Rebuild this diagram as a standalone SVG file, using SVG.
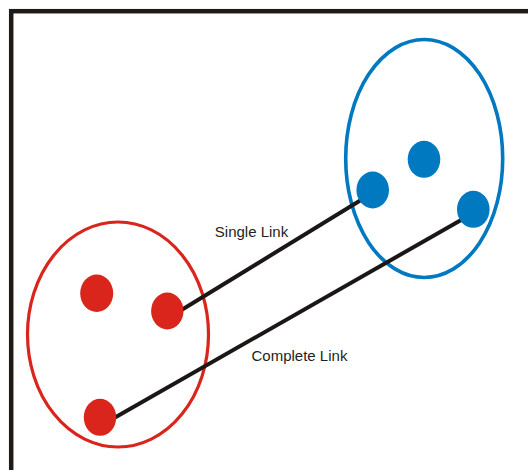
<svg xmlns="http://www.w3.org/2000/svg" width="528" height="470" viewBox="0 0 528 470">
  <style>
    .frame { fill: none; stroke: #1e1a18; stroke-width: 4.5; }
    .red-cluster { fill: none; stroke: #d9251c; stroke-width: 3.2; }
    .blue-cluster { fill: none; stroke: #0079c1; stroke-width: 3.6; }
    .red-pt { fill: #d9251c; }
    .blue-pt { fill: #0079c1; }
    .link { stroke: #1a1716; stroke-width: 4; stroke-linecap: butt; }
    .label { font-family: "Liberation Sans", Arial, sans-serif; font-size: 15px; fill: #231f20; }
  </style>
  <rect width="528" height="470" fill="#ffffff"/>
  <!-- open frame: top and left edges -->
  <rect class="frame" x="11.2" y="11.2" width="560" height="500"/>

  <g id="cluster-red">
    <ellipse class="red-cluster" cx="118" cy="334.5" rx="90.5" ry="112.5"/>
  </g>
  <g id="cluster-blue">
    <ellipse class="blue-cluster" cx="424.2" cy="158.5" rx="78.5" ry="119"/>
  </g>

  <g id="connectors">
    <line class="link" x1="181.5" y1="310" x2="361" y2="200"/>
    <line class="link" x1="115" y1="417.5" x2="462" y2="219.5"/>
  </g>

  <g id="red-1"><ellipse class="red-pt" cx="96.7" cy="293.3" rx="16.5" ry="18.7"/></g>
  <g id="red-2"><ellipse class="red-pt" cx="167.3" cy="311" rx="16.2" ry="18.5"/></g>
  <g id="red-3"><ellipse class="red-pt" cx="100" cy="417.3" rx="16.2" ry="18.5"/></g>

  <g id="blue-1"><ellipse class="blue-pt" cx="372.7" cy="190" rx="16.3" ry="18.5"/></g>
  <g id="blue-2"><ellipse class="blue-pt" cx="424" cy="159.3" rx="16.3" ry="18.5"/></g>
  <g id="blue-3"><ellipse class="blue-pt" cx="473.3" cy="209.3" rx="16.3" ry="18.5"/></g>

  <g id="labels">
    <text class="label" x="214.8" y="237.3">Single Link</text>
    <text class="label" x="251.5" y="360.7">Complete Link</text>
  </g>
</svg>
